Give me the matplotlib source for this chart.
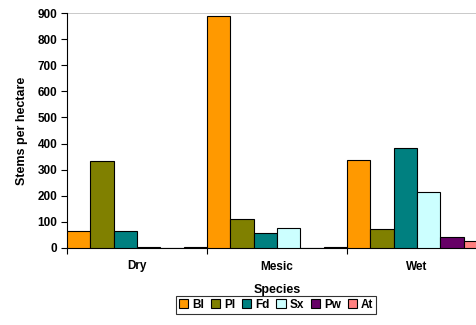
import matplotlib.pyplot as plt
import numpy as np

plt.rcParams['font.family'] = ['Liberation Sans', 'DejaVu Sans']
plt.rcParams['font.weight'] = 'bold'

sites = ['Dry', 'Mesic', 'Wet']
species = ['Bl', 'Pl', 'Fd', 'Sx', 'Pw', 'At']
colors = ['#FF9900', '#808000', '#008080', '#CCFFFF', '#660066', '#FF8080']
# stems per hectare, one list per species (Dry, Mesic, Wet)
bl = [65, 890, 337]
pl = [334, 110, 73]
fd = [65, 56, 382]
sx = [4, 78, 213]
pw = [0, 1, 42]
at = [2, 2, 25]
vals = [bl, pl, fd, sx, pw, at]

fig = plt.figure(figsize=(4.76, 3.25), dpi=100)
# right edge runs past the figure like the original screenshot
ax = fig.add_axes([67/476, 77/325, 420/476, 235/325])

w = 1/6
x = np.arange(len(sites))
for i, (sp, v) in enumerate(zip(species, vals)):
    ax.bar(x + i*w, v, width=w, align='edge', color=colors[i],
           edgecolor='black', linewidth=0.8, label=sp, zorder=3)

ax.axhline(900, color='#C0C0C0', linewidth=1.2, zorder=1)
ax.set_xlim(0, 3)
ax.set_ylim(0, 900)
ax.set_yticks(range(0, 901, 100))
ax.set_xticks([0, 1, 2, 3])
ax.set_xticklabels([])
ax.set_xticks(x + 0.5, minor=True)
ax.set_xticklabels(sites, minor=True)
ax.tick_params(axis='x', which='minor', length=0, pad=9, labelsize=8.5)
ax.tick_params(axis='x', which='major', length=4, width=0.8, direction='out')
ax.tick_params(axis='y', length=4, width=0.8, labelsize=8.5, pad=3)
for s in ['top', 'right']:
    ax.spines[s].set_visible(False)
ax.spines['left'].set_linewidth(0.8)
ax.spines['bottom'].set_linewidth(0.8)

ax.set_ylabel('Stems per hectare', fontsize=9, fontweight='bold', labelpad=7)
ax.set_xlabel('Species', fontsize=9, fontweight='bold', labelpad=8)

leg = fig.legend(loc='center', bbox_to_anchor=(276/476, 1 - 305/325), ncol=6,
                 fontsize=8.5, frameon=True, fancybox=False, edgecolor='black',
                 handlelength=0.8, handleheight=0.8, handletextpad=0.3,
                 columnspacing=0.6, borderpad=0.25, borderaxespad=0)
leg.get_frame().set_linewidth(0.8)

fig.savefig('out.png', dpi=100)
